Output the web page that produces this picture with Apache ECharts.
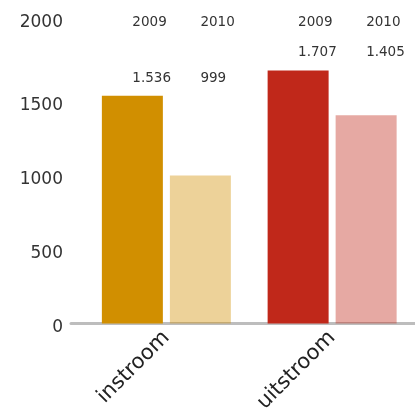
<!DOCTYPE html>
<html>
<head>
<meta charset="utf-8">
<script src="https://cdn.jsdelivr.net/npm/echarts@6/dist/echarts.min.js"></script>
<style>
  html, body { margin: 0; padding: 0; background: #fff; }
  #chart { width: 415px; height: 413px; }
</style>
</head>
<body>
<div id="chart"></div>
<script>
// Instroom / uitstroom per jaar
const categories = ['instroom', 'uitstroom'];
const years = ['2009', '2010'];
const values2009 = [1536, 1707];
const values2010 = [999, 1405];
const yMin = 0, yMax = 2000, yStep = 500;

// 2009 in full colour, 2010 as a 40% tint of the same colour
const colors2009 = ['rgb(209,143,0)', 'rgb(192,40,26)'];
const colors2010 = ['rgba(209,143,0,0.4)', 'rgba(192,40,26,0.4)'];
const FONT = 'DejaVu Sans';

const chart = echarts.init(document.getElementById('chart'), null, { renderer: 'canvas' });

function fmt(v) {
  return String(v).replace(/\B(?=(\d{3})+(?!\d))/g, '.');
}

// value labels sit above the taller bar of each category
function valueLabelLayout(params) {
  const i = params.dataIndex;
  const top = Math.max(values2009[i], values2010[i]);
  const py = chart.convertToPixel({ yAxisIndex: 0 }, top);
  return { y: py - 17.5, verticalAlign: 'middle' };
}
// year labels form one row at the top
function yearLabelLayout() {
  return { y: 22, verticalAlign: 'middle' };
}

const barCommon = {
  type: 'bar',
  barWidth: 61,
  barGap: '11.5%',
  barCategoryGap: 0
};

const valueLabel = {
  show: true,
  position: 'top',
  color: '#333',
  fontFamily: FONT,
  fontSize: 13.5,
  formatter: p => fmt(p.value)
};

function yearLabel(year) {
  return {
    show: true,
    position: 'top',
    color: '#333',
    fontFamily: FONT,
    fontSize: 13.5,
    formatter: () => year
  };
}

const option = {
  animation: false,
  grid: [
    { left: 83.5, right: 0, top: 27, bottom: 89.5, outerBoundsMode: 'none', containLabel: false },
    { left: 71, right: 0, top: 27, bottom: 89.5, outerBoundsMode: 'none', containLabel: false }
  ],
  xAxis: [
    {
      type: 'category', gridIndex: 0, data: categories,
      axisLine: { show: false }, axisTick: { show: false },
      axisLabel: {
        rotate: 45, margin: 11, color: '#222',
        fontFamily: FONT, fontSize: 21
      }
    },
    {
      type: 'category', gridIndex: 0, data: categories, show: false
    },
    {
      type: 'value', gridIndex: 1, min: 0, max: 1,
      axisLine: { show: true, lineStyle: { color: '#bdbdbd', width: 3 } },
      axisTick: { show: false }, axisLabel: { show: false }, splitLine: { show: false }
    }
  ],
  yAxis: [
    {
      type: 'value', gridIndex: 0, min: yMin, max: yMax, interval: yStep,
      axisLine: { show: false }, axisTick: { show: false }, splitLine: { show: false },
      axisLabel: {
        margin: 20.5, color: '#333',
        formatter: v => (v === yMax ? '{t|' + v + '}' : '{n|' + v + '}'),
        rich: {
          n: { fontFamily: FONT, fontSize: 17, color: '#333', padding: [8, 0, 0, 0] },
          t: { fontFamily: FONT, fontSize: 17, color: '#333', padding: [0, 0, 9, 0] }
        }
      }
    },
    { type: 'value', gridIndex: 1, min: 0, max: 1, show: false }
  ],
  series: [
    Object.assign({}, barCommon, {
      name: years[0], xAxisIndex: 0, yAxisIndex: 0,
      data: values2009,
      itemStyle: { color: p => colors2009[p.dataIndex] },
      label: valueLabel,
      labelLayout: valueLabelLayout,
      z: 3
    }),
    Object.assign({}, barCommon, {
      name: years[1], xAxisIndex: 0, yAxisIndex: 0,
      data: values2010,
      itemStyle: { color: p => colors2010[p.dataIndex] },
      label: valueLabel,
      labelLayout: valueLabelLayout,
      z: 3
    }),
    Object.assign({}, barCommon, {
      name: years[0] + ' jaar', xAxisIndex: 1, yAxisIndex: 0,
      data: values2009, silent: true,
      itemStyle: { color: 'rgba(0,0,0,0)' },
      label: yearLabel(years[0]),
      labelLayout: yearLabelLayout,
      z: 1
    }),
    Object.assign({}, barCommon, {
      name: years[1] + ' jaar', xAxisIndex: 1, yAxisIndex: 0,
      data: values2010, silent: true,
      itemStyle: { color: 'rgba(0,0,0,0)' },
      label: yearLabel(years[1]),
      labelLayout: yearLabelLayout,
      z: 1
    })
  ]
};

chart.setOption(option);
</script>
</body>
</html>
